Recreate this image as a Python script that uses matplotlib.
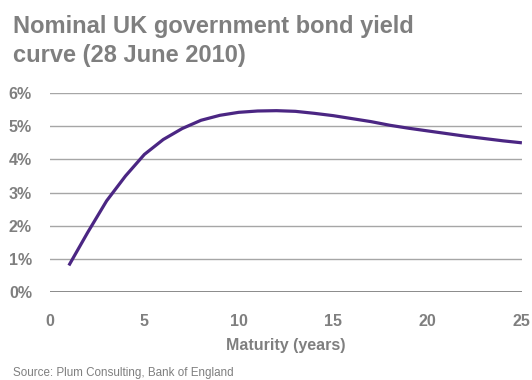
import matplotlib
matplotlib.use("Agg")
import matplotlib.pyplot as plt

# Maturity (years) and nominal yield (%)
maturity = [1, 2, 3, 4, 5, 6, 7, 8, 9, 10, 11, 12, 13, 14, 15, 16, 17, 18,
            19, 20, 21, 22, 23, 24, 25]
yields = [0.80, 1.80, 2.75, 3.50, 4.15, 4.60, 4.93, 5.18, 5.33, 5.42, 5.46,
          5.47, 5.45, 5.39, 5.32, 5.23, 5.14, 5.03, 4.94, 4.86, 4.78, 4.70,
          4.63, 4.56, 4.50]
x_ticks = [0, 5, 10, 15, 20, 25]
y_ticks = [0, 1, 2, 3, 4, 5, 6]

grey = "#7f7f7f"
plt.rcParams['font.family'] = ['Liberation Sans', 'DejaVu Sans']

fig = plt.figure(figsize=(5.32, 3.8), dpi=100)
ax = fig.add_axes([0.094, 0.2316, 0.887, 0.5234])

for v in y_ticks[1:]:
    ax.axhline(v, color="#a6a6a6", lw=1.0, zorder=1)
ax.axhline(0, color="#808080", lw=2.0, zorder=1)

ax.plot(maturity, yields, color="#4b2683", lw=2.3, zorder=3,
        solid_capstyle="butt")

ax.set_xlim(0, 25)
ax.set_ylim(0, 6)
ax.set_xticks(x_ticks)
ax.set_yticks(y_ticks)
ax.set_yticklabels([f"{v}%" for v in y_ticks])
ax.tick_params(length=0, labelsize=11.5, labelcolor=grey)
ax.tick_params(axis="y", pad=13)
ax.tick_params(axis="x", pad=16)
for lab in ax.get_xticklabels() + ax.get_yticklabels():
    lab.set_fontweight("bold")
for s in ax.spines.values():
    s.set_visible(False)

ax.set_xlabel("Maturity (years)", fontsize=11.5, fontweight="bold",
              color=grey, labelpad=6)

fig.text(0.024, 0.913, "Nominal UK government bond yield",
         fontsize=17, fontweight="bold", color=grey, va="baseline", ha="left")
fig.text(0.024, 0.837, "curve (28 June 2010)",
         fontsize=17, fontweight="bold", color=grey, va="baseline", ha="left")
fig.text(0.024, 0.018, "Source: Plum Consulting, Bank of England",
         fontsize=8.4, color=grey, va="center", ha="left")

fig.savefig("out.png", dpi=100)
